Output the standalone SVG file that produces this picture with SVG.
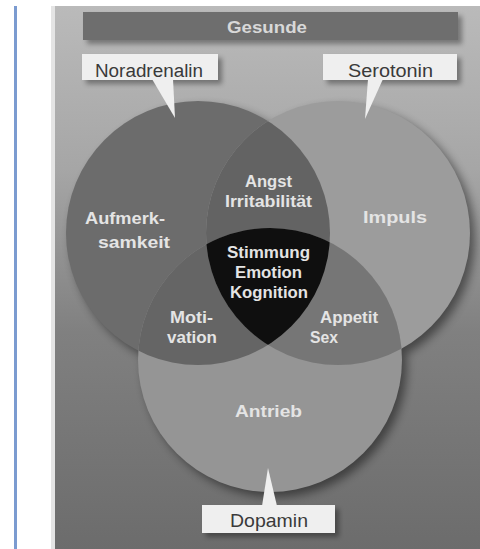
<svg xmlns="http://www.w3.org/2000/svg" width="480" height="549" viewBox="0 0 480 549">
<defs>
<linearGradient id="bg" x1="0" y1="0" x2="0" y2="1">
<stop offset="0" stop-color="#bababa"/>
<stop offset="0.3" stop-color="#a6a6a6"/>
<stop offset="0.6" stop-color="#808080"/>
<stop offset="1" stop-color="#6c6c6c"/>
</linearGradient>
<filter id="blur" x="-20%" y="-20%" width="140%" height="140%"><feGaussianBlur stdDeviation="5"/></filter>
<filter id="sblur" x="-20%" y="-50%" width="140%" height="200%"><feGaussianBlur stdDeviation="2.5"/></filter>
<clipPath id="cL"><circle cx="198" cy="233" r="132"/></clipPath>
<clipPath id="cR"><circle cx="338" cy="233" r="132"/></clipPath>
<style>
.lbl{font-family:"Liberation Sans",Arial,sans-serif;font-weight:bold;font-size:16px;fill:#e4e4e4}
.box{fill:#efefef}
.btx{font-family:"Liberation Sans",Arial,sans-serif;font-size:18px;fill:#3a3a3a}
.sh{fill:#000;opacity:0.35;filter:url(#sblur)}
</style>
</defs>
<rect x="0" y="0" width="480" height="549" fill="#ffffff"/>
<rect x="14" y="6" width="3" height="543" fill="#7b9bd0"/>
<rect x="51" y="6" width="429" height="543" fill="url(#bg)"/>
<rect x="51" y="6" width="4" height="543" fill="#e4e4e4"/>
<!-- circle shadows -->
<g fill="#000" opacity="0.45" filter="url(#blur)">
<circle cx="203" cy="238" r="132"/>
<circle cx="343" cy="238" r="132"/>
<circle cx="275" cy="365" r="132"/>
</g>
<g id="noradrenalin-circle">
<circle cx="198" cy="233" r="132" fill="#6c6c6c"/>
</g>
<g id="serotonin-circle">
<circle cx="338" cy="233" r="132" fill="#9c9c9c"/>
</g>
<g id="dopamin-circle">
<circle cx="270" cy="360" r="132" fill="#959595"/>
</g>
<g id="overlaps">
<circle cx="338" cy="233" r="132" fill="#636363" clip-path="url(#cL)"/>
<circle cx="270" cy="360" r="132" fill="#656565" clip-path="url(#cL)"/>
<circle cx="270" cy="360" r="132" fill="#767676" clip-path="url(#cR)"/>
<g clip-path="url(#cL)"><circle cx="270" cy="360" r="132" fill="#0f0f0f" clip-path="url(#cR)"/></g>
</g>
<g id="labels">
<text class="lbl" x="85" y="224" textLength="80" lengthAdjust="spacingAndGlyphs">Aufmerk-</text>
<text class="lbl" x="98" y="248" textLength="72" lengthAdjust="spacingAndGlyphs">samkeit</text>
<text class="lbl" x="245" y="187" textLength="47" lengthAdjust="spacingAndGlyphs">Angst</text>
<text class="lbl" x="225" y="207" textLength="87" lengthAdjust="spacingAndGlyphs">Irritabilität</text>
<text class="lbl" x="363" y="223" textLength="64" lengthAdjust="spacingAndGlyphs">Impuls</text>
<text class="lbl" x="227" y="258" textLength="83" lengthAdjust="spacingAndGlyphs">Stimmung</text>
<text class="lbl" x="235" y="278" textLength="67" lengthAdjust="spacingAndGlyphs">Emotion</text>
<text class="lbl" x="230" y="298" textLength="78" lengthAdjust="spacingAndGlyphs">Kognition</text>
<text class="lbl" x="170" y="323" textLength="43" lengthAdjust="spacingAndGlyphs">Moti-</text>
<text class="lbl" x="167" y="343" textLength="50" lengthAdjust="spacingAndGlyphs">vation</text>
<text class="lbl" x="320" y="323" textLength="58" lengthAdjust="spacingAndGlyphs">Appetit</text>
<text class="lbl" x="310" y="343" textLength="28" lengthAdjust="spacingAndGlyphs">Sex</text>
<text class="lbl" x="235" y="417" textLength="67" lengthAdjust="spacingAndGlyphs">Antrieb</text>
</g>
<g id="gesunde">
<rect class="sh" x="87" y="16" width="375" height="28"/>
<rect x="83" y="12" width="375" height="28" fill="#6e6e6e"/>
<text x="227" y="33" textLength="80" lengthAdjust="spacingAndGlyphs" style="font-family:'Liberation Sans',Arial,sans-serif;font-weight:bold;font-size:17px;fill:#d8d8d8">Gesunde</text>
</g>
<g id="noradrenalin">
<rect class="sh" x="86" y="58" width="136" height="26"/>
<rect class="box" x="82" y="54" width="136" height="26"/>
<text class="btx" x="95" y="77" textLength="108" lengthAdjust="spacingAndGlyphs">Noradrenalin</text>
</g>
<g id="serotonin">
<rect class="sh" x="327" y="58" width="134" height="26"/>
<rect class="box" x="323" y="54" width="134" height="26"/>
<text class="btx" x="348" y="77" textLength="85" lengthAdjust="spacingAndGlyphs">Serotonin</text>
</g>
<g id="dopamin">
<rect class="sh" x="206" y="509" width="133" height="28"/>
<rect class="box" x="202" y="505" width="133" height="28"/>
<text class="btx" x="230" y="527" textLength="78" lengthAdjust="spacingAndGlyphs" style="font-size:19px">Dopamin</text>
</g>
<g id="connectors">
<polygon points="152,79 173,79 175,118" class="box"/>
<polygon points="368,79 383,79 365,119" class="box"/>
<polygon points="262,506 277,506 268,468" class="box"/>
</g>
</svg>
